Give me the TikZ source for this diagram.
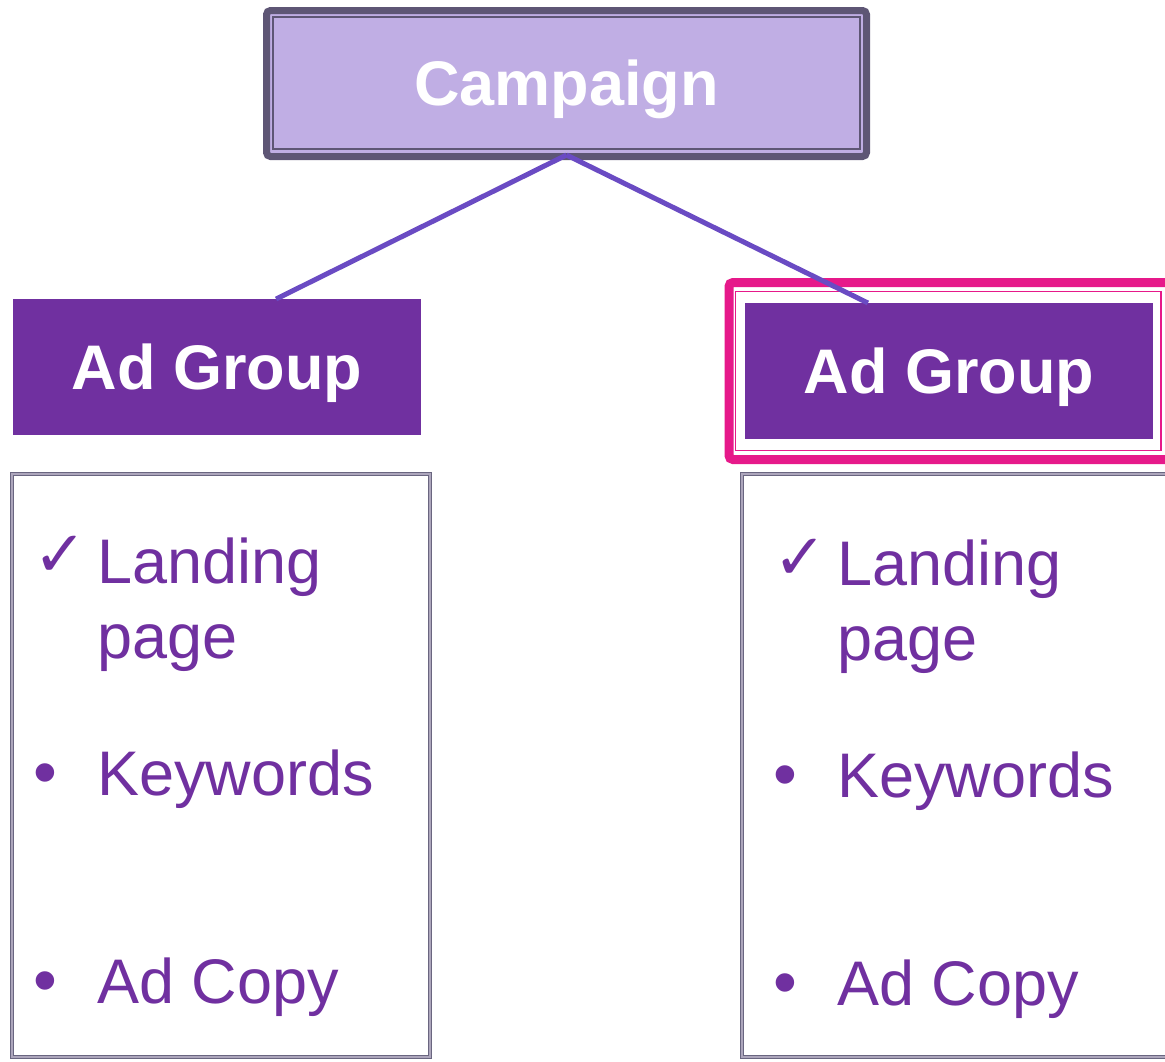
\documentclass[tikz,border=0pt]{standalone}
\usepackage{fontspec}
\setmainfont{Liberation Sans}
\newfontfamily\symfont{DejaVu Sans}
\usetikzlibrary{backgrounds}

\definecolor{lavender}{HTML}{C0AEE4}
\definecolor{framegray}{HTML}{5E5675}
\definecolor{adpurple}{HTML}{7030A0}
\definecolor{hotpink}{HTML}{E6198A}
\definecolor{linkblue}{HTML}{6A4BC3}
\definecolor{listgray}{HTML}{6A6680}
\definecolor{listlight}{HTML}{ADA6BC}

\tikzset{
  titlebox/.style={draw=framegray, line width=1.5pt, fill=lavender, text=white,
    font=\fontsize{63}{75}\selectfont\bfseries, inner sep=0pt, outer sep=0pt, text depth=0pt,
    minimum width=587pt, minimum height=132pt},
  groupbox/.style={fill=adpurple, text=white, font=\fontsize{63}{75}\selectfont\bfseries,
    inner sep=0pt, outer sep=0pt, text depth=0pt,
    minimum width=408pt, minimum height=136pt},
  listbox/.style={draw=listgray, double=listlight, double distance=1.2pt,
    line width=1.2pt, inner sep=0pt, minimum width=418pt, minimum height=583pt},
  item/.style={text=adpurple, font=\fontsize{63}{75}\selectfont, anchor=base west,
    inner sep=0pt, align=left},
  dotmark/.style={text=adpurple, font=\fontsize{68}{68}\selectfont, anchor=base, inner sep=0pt},
  tickmark/.style={text=adpurple, font=\symfont\fontsize{64}{64}\selectfont, inner sep=0pt},
  link/.style={draw=linkblue, line width=5pt},
}

\begin{document}
\begin{tikzpicture}[x=1pt,y=-1pt]
\useasboundingbox (0,0) rectangle (1165,1061);
\clip (0,0) rectangle (1165,1061);

\node[titlebox] (campaign) at (566.5,83) {Campaign};
\begin{scope}[on background layer]
\draw[framegray, line width=7pt, rounded corners=4pt, fill=lavender]
  ([xshift=-6.5pt,yshift=6.5pt]campaign.north west) rectangle ([xshift=6.5pt,yshift=-7.5pt]campaign.south east);
\end{scope}

\node[groupbox] (adL) at (217,367) {Ad Group};
\node[groupbox] (adR) at (949,371) {Ad Group};
\draw[hotpink, line width=9pt, rounded corners=4pt]
  ([xshift=-16pt,yshift=20.5pt]adR.north west) rectangle ([xshift=18pt,yshift=-20.5pt]adR.south east);
\draw[hotpink, line width=1.5pt]
  ([xshift=-9.5pt,yshift=11.5pt]adR.north west) rectangle ([xshift=8pt,yshift=-11.5pt]adR.south east);

\draw[link] ([yshift=-6pt]campaign.south) -- (adL.49.5);
\draw[link] ([yshift=-6pt]campaign.south) -- (adR.140);

% left list
\node[listbox] (listL) at (221,765.5) {};
\node[tickmark] (tickL) at (60,556) {✓};
\node[item] (landL) at (97,658) {Landing\\page};
\node[dotmark] (dotL1) at (45,795) {•};
\node[item] (keyL) at (97,795) {Keywords};
\node[dotmark] (dotL2) at (45,1003) {•};
\node[item] (copyL) at (97,1003) {Ad Copy};

% right list
\node[listbox, minimum width=460pt] (listR) at (972,765.5) {};
\node[tickmark] (tickR) at (800,559) {✓};
\node[item] (landR) at (837,660) {Landing\\page};
\node[dotmark] (dotR1) at (785,797) {•};
\node[item] (keyR) at (837,797) {Keywords};
\node[dotmark] (dotR2) at (785,1005) {•};
\node[item] (copyR) at (837,1005) {Ad Copy};

\end{tikzpicture}
\end{document}
